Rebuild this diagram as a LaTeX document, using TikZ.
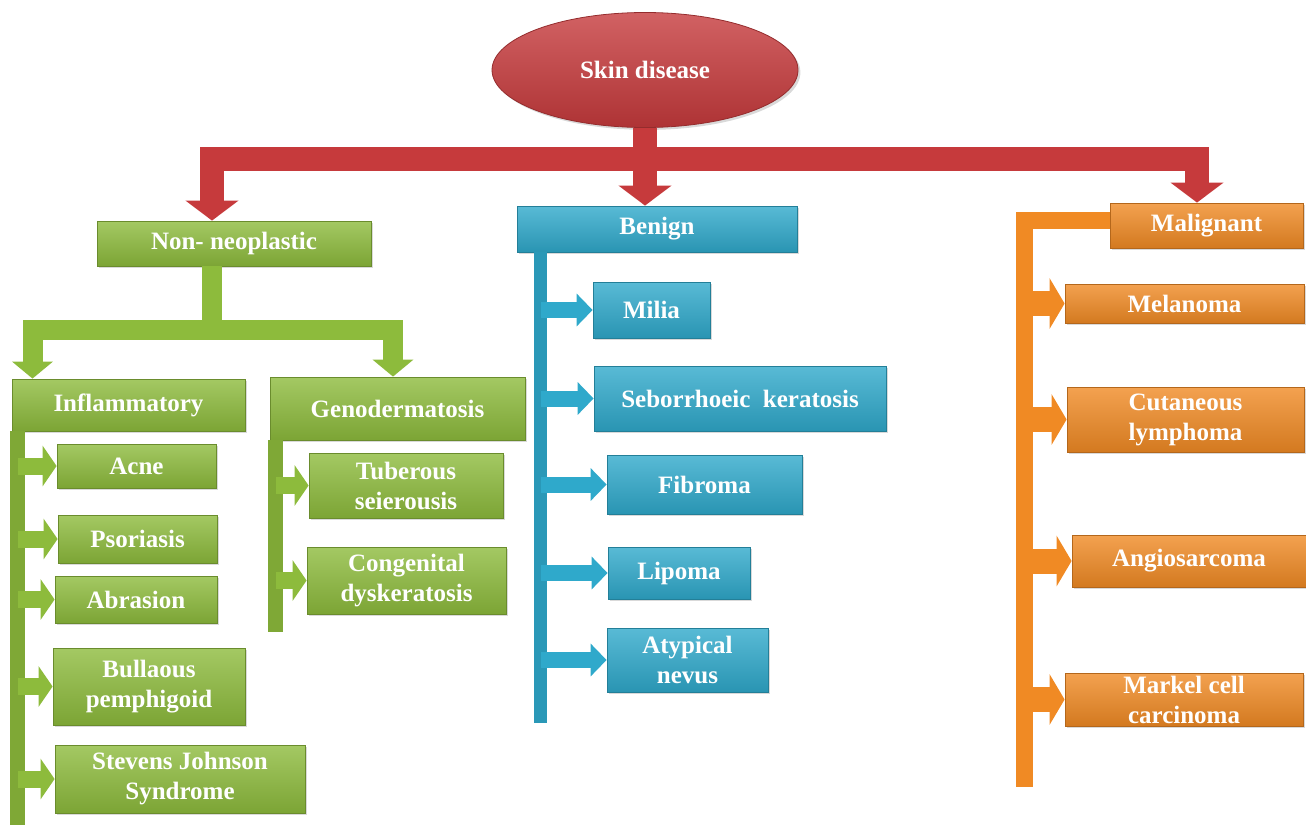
\documentclass[tikz,border=0pt]{standalone}
\usepackage{fontspec}
\setmainfont{Liberation Serif}
\usetikzlibrary{arrows.meta}
\usetikzlibrary{shapes.geometric}
\usetikzlibrary{shadows}

\definecolor{skred}{HTML}{C63A3C}
\definecolor{skgreen}{HTML}{8DBB3C}
\definecolor{skblue}{HTML}{2FA9CB}
\definecolor{skorange}{HTML}{F08A24}

\tikzset{
  colbox/.style={rectangle, draw=#1!75!black, line width=0.4pt,
    top color=#1!80!white, bottom color=#1!88!black, text=white,
    font=\bfseries\fontsize{12.5}{15}\selectfont, align=center, inner sep=1pt,
    drop shadow={opacity=0.3, shadow xshift=1.2pt, shadow yshift=-1.2pt}},
  greenbox/.style={colbox=skgreen},
  bluebox/.style={colbox=skblue},
  orangebox/.style={colbox=skorange},
  rootnode/.style={colbox=skred, ellipse, minimum width=153pt, minimum height=57.5pt},
  rarrow/.style={draw=skred, line width=12pt, line join=miter, -{Triangle[width=26pt,length=10pt]}},
  gdown/.style={draw=skgreen, line width=10pt, line join=miter, -{Triangle[width=20pt,length=8.5pt]}},
  gtrunk/.style={draw=skgreen!90!black, line width=7.5pt},
  btrunk/.style={draw=skblue!90!black, line width=6.5pt},
  otrunk/.style={draw=skorange, line width=8.5pt, line join=miter},
  garrow/.style={draw=skgreen, line width=8.5pt, -{Triangle[width=20pt,length=7pt]}},
  barrow/.style={draw=skblue, line width=8pt, -{Triangle[width=16pt,length=8pt]}},
  oarrow/.style={draw=skorange, line width=12.5pt, -{Triangle[width=25pt,length=7.5pt]}}
}

\begin{document}
\begin{tikzpicture}[x=0.5pt,y=-0.5pt]
  \useasboundingbox (0,0) rectangle (1306,825);

  \node[rootnode] (root) at (645,70) {Skin disease};
  \node[greenbox, minimum width=137pt, minimum height=22.5pt] (nonneo) at (234,243.5) {Non- neoplastic};
  \node[bluebox, minimum width=140pt, minimum height=23pt] (benign) at (657,229) {Benign};
  \node[orangebox, minimum width=96.5pt, minimum height=22.5pt] (malig) at (1206.5,225.5) {Malignant};

  \coordinate (rbar) at (645,159);
  \draw[rarrow] (root.south) -- (rbar) -| ([xshift=-11pt]nonneo.north);
  \draw[rarrow] (root.south) -- ([xshift=-6pt]benign.north);
  \draw[rarrow] (root.south) -- (rbar) -| ([xshift=-4.75pt]malig.north);

  \node[greenbox, minimum width=116.5pt, minimum height=26pt] (inflam) at (128.5,405) {Inflammatory};
  \node[greenbox, minimum width=127.5pt, minimum height=31.5pt] (geno) at (397.5,408.5) {Genodermatosis};

  \coordinate (gbar) at (211.5,330);
  \draw[gdown] ([xshift=-11.25pt]nonneo.south) -- (gbar) -| ([xshift=-48pt]inflam.north);
  \draw[gdown] ([xshift=-11.25pt]nonneo.south) -- (gbar) -| ([xshift=-2.25pt]geno.north);

  \coordinate (gend) at (17.5,825);
  \draw[gtrunk] (gend |- inflam.south) -- (gend);
  \foreach \n/\x/\y/\w/\h/\t in {acne/136.5/466/79.5/22/Acne,
      psor/137.5/539/79.5/24/Psoriasis,
      abras/136/599.5/81/23.5/Abrasion,
      bull/149/686.5/96/38.5/{Bullaous\\pemphigoid},
      stev/180/779/125/34/{Stevens Johnson\\Syndrome}} {
    \node[greenbox, minimum width=\w pt, minimum height=\h pt] (\n) at (\x,\y) {\t};
    \draw[garrow] (gend |- \n) -- (\n.west);
  }

  \coordinate (kend) at (275.5,632);
  \draw[gtrunk] (kend |- geno.south) -- (kend);
  \foreach \n/\x/\y/\w/\h/\t in {tuber/406/485.5/97/32.5/{Tuberous\\seierousis},
      cong/406.5/580.5/99.5/33.5/{Congenital\\dyskeratosis}} {
    \node[greenbox, minimum width=\w pt, minimum height=\h pt] (\n) at (\x,\y) {\t};
    \draw[garrow] (kend |- \n) -- (\n.west);
  }

  \coordinate (bend) at (540.5,723);
  \draw[btrunk] (bend |- benign.south) -- (bend);
  \foreach \n/\x/\y/\w/\h/\t in {milia/651.5/310/58.5/28/Milia,
      sebo/740/398.5/146/32.5/Seborrhoeic~ keratosis,
      fibro/704.5/484.5/97.5/29.5/Fibroma,
      lipo/679/573/71/26/Lipoma,
      atyp/687.5/660/80.5/32/{Atypical\\nevus}} {
    \node[bluebox, minimum width=\w pt, minimum height=\h pt] (\n) at (\x,\y) {\t};
    \draw[barrow] (bend |- \n) -- (\n.west);
  }

  \coordinate (oend) at (1024.5,787);
  \draw[otrunk] ([yshift=2.5pt]malig.west) -| (oend);
  \foreach \n/\x/\y/\w/\h/\t in {mela/1184.5/303.5/119.5/19.5/Melanoma,
      cuta/1185.5/419.5/118.5/32.5/{Cutaneous\\lymphoma},
      angio/1189/561/117/26/Angiosarcoma,
      markel/1184/699.5/119/26.5/{Markel cell\\carcinoma}} {
    \node[orangebox, minimum width=\w pt, minimum height=\h pt] (\n) at (\x,\y) {\t};
    \draw[oarrow] (oend |- \n) -- (\n.west);
  }
\end{tikzpicture}
\end{document}
